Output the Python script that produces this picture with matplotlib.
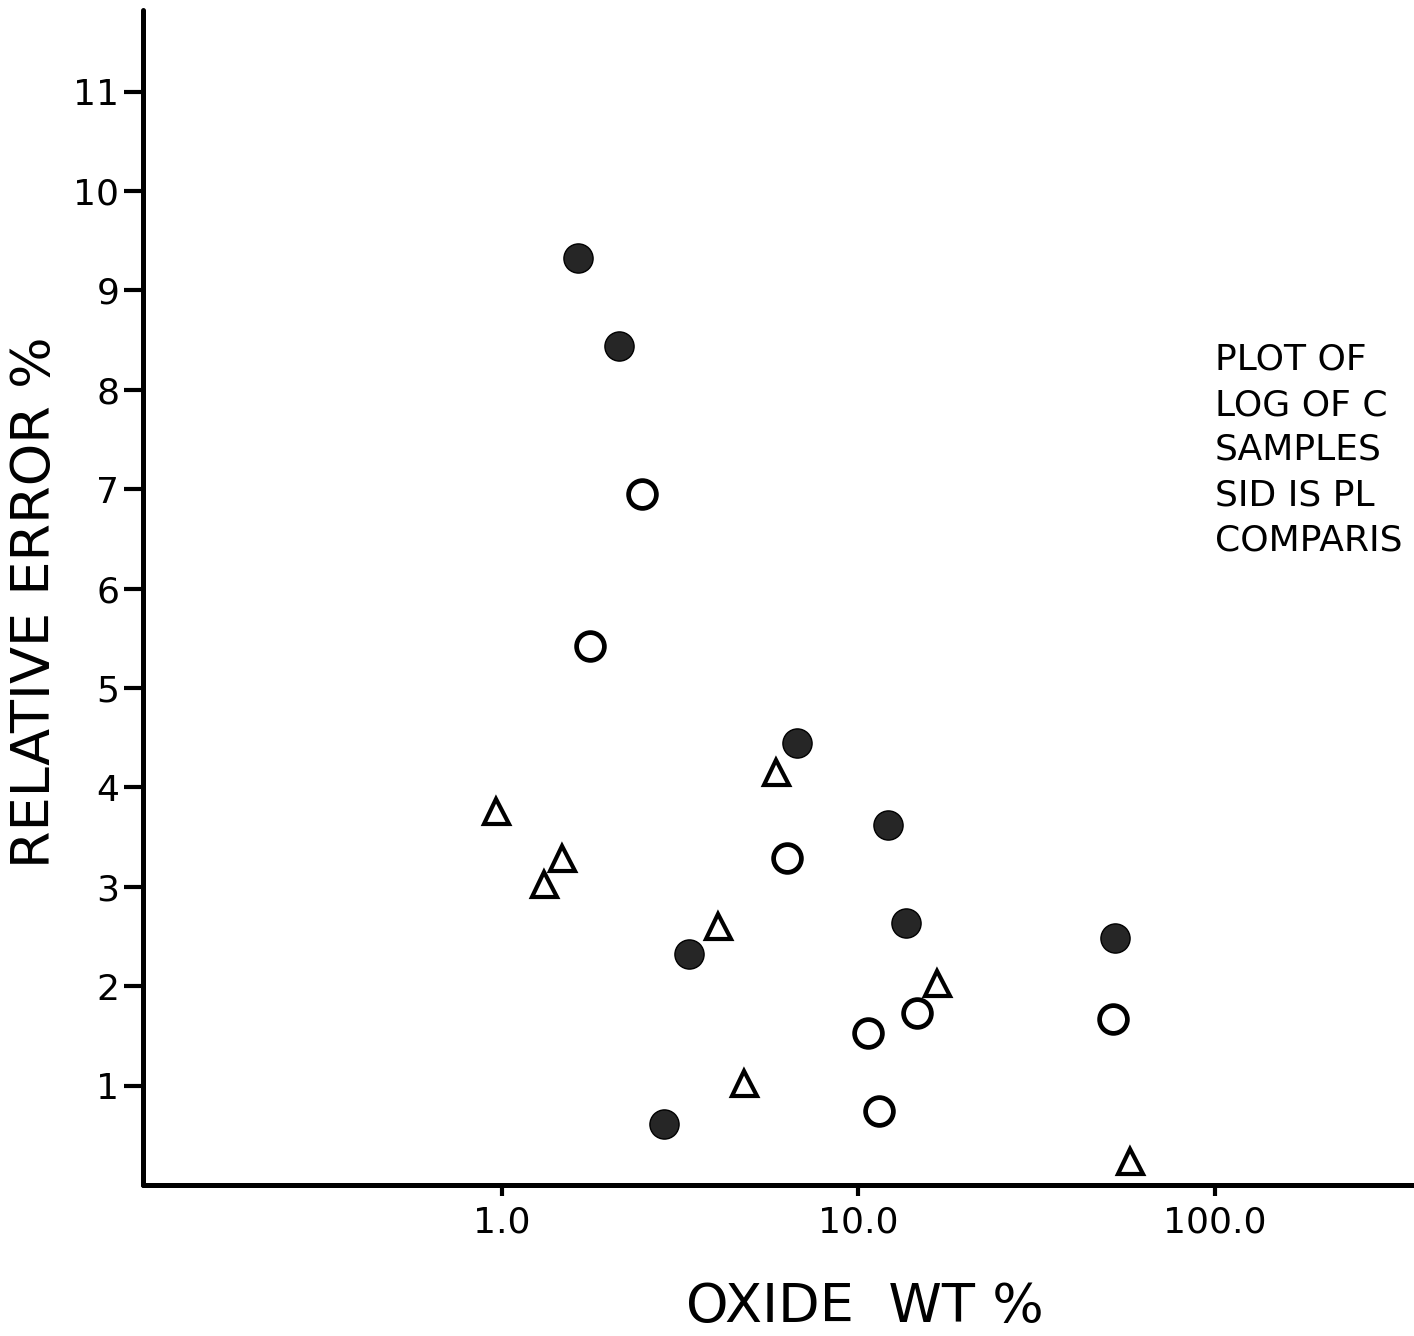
import matplotlib
matplotlib.use("Agg")
import matplotlib.pyplot as plt
from matplotlib.ticker import FixedLocator, FixedFormatter, NullLocator

# ---------- data ----------
# filled circles
solid_x = [1.63, 2.13, 6.72, 12.1, 13.6, 3.35, 2.85, 52.4]
solid_y = [9.33, 8.44, 4.45, 3.62, 2.64, 2.32, 0.61, 2.49]
# open circles
open_x = [2.47, 1.77, 6.30, 10.6, 14.6, 11.4, 51.7]
open_y = [6.95, 5.42, 3.29, 1.53, 1.73, 0.74, 1.67]
# triangles
tri_x = [0.962, 1.47, 1.31, 5.87, 4.04, 16.6, 4.77, 57.8]
tri_y = [3.76, 3.29, 3.03, 4.15, 2.61, 2.03, 1.03, 0.24]

x_ticks = [1.0, 10.0, 100.0]
x_tick_labels = ["1.0", "10.0", "100.0"]
y_ticks = [1, 2, 3, 4, 5, 6, 7, 8, 9, 10, 11]
y_tick_labels = [str(v) for v in y_ticks]

note_lines = ["PLOT OF", "LOG OF C", "SAMPLES", "SID IS PL", "COMPARIS"]

# ---------- figure ----------
plt.rcParams['font.family'] = ['DejaVu Sans']
fig = plt.figure(figsize=(14.14, 13.36), dpi=100)
ax = fig.add_axes([0.1011, 0.1130, 0.8989, 0.8795])

ax.plot(solid_x, solid_y, 'o', ls='none', ms=21, mfc='#262626', mec='black', mew=1)
ax.plot(open_x, open_y, 'o', ls='none', ms=20, mfc='none', mec='black', mew=3.4)
ax.plot(tri_x, tri_y, '^', ls='none', ms=18, mfc='none', mec='black', mew=3.0)

ax.set_xscale('log')
ax.set_xlim(0.0984, 361.5)
ax.set_ylim(0, 11.82)

ax.xaxis.set_major_locator(FixedLocator(x_ticks))
ax.xaxis.set_major_formatter(FixedFormatter(x_tick_labels))
ax.xaxis.set_minor_locator(NullLocator())
ax.yaxis.set_major_locator(FixedLocator(y_ticks))
ax.yaxis.set_major_formatter(FixedFormatter(y_tick_labels))

ax.tick_params(axis='x', direction='out', length=8, width=3, pad=7, labelsize=26)
ax.tick_params(axis='y', direction='out', length=14, width=3, pad=3, labelsize=26)

for s in ['top', 'right']:
    ax.spines[s].set_visible(False)
for s in ['left', 'bottom']:
    ax.spines[s].set_linewidth(3.6)
    ax.spines[s].set_capstyle('round')

ax.set_ylabel("RELATIVE ERROR %", fontsize=39)
ax.yaxis.set_label_coords(-0.0645, 0.496)
ax.set_xlabel("OXIDE  WT %", fontsize=39, va='baseline')
ax.xaxis.set_label_coords(0.568, -0.1166)

# note text at the right edge (cut off in the scan)
for i, line in enumerate(note_lines):
    fig.text(1215 / 1414, 1 - (370 + 45 * i) / 1336, line, fontsize=26,
             ha='left', va='baseline')

fig.savefig("out.png", dpi=100)
